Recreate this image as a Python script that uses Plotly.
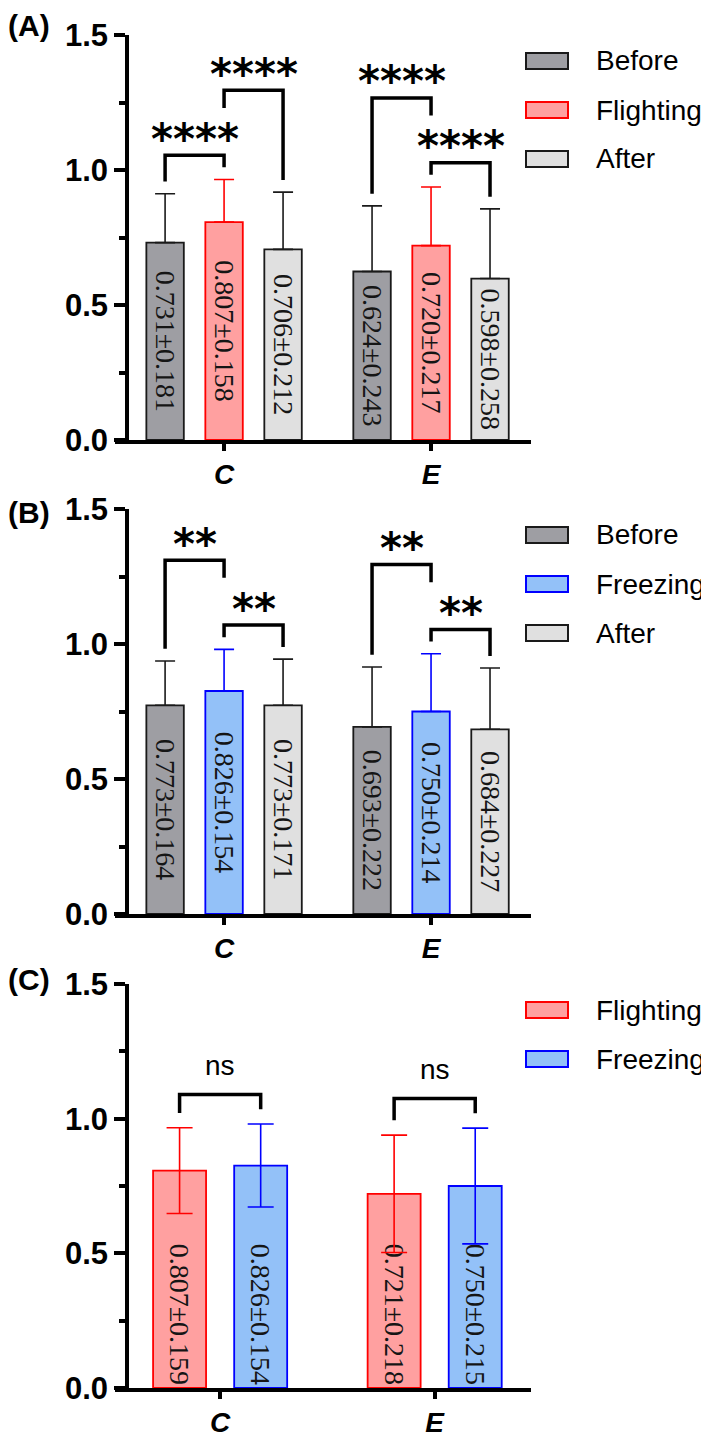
import plotly.graph_objects as go

# ---- data ----
groups = ['C', 'E']
y_ticks = [0.0, 0.5, 1.0, 1.5]
panel_labels = ['(A)', '(B)', '(C)']

a_names = ['Before', 'Flighting', 'After']
a_means = [[0.731, 0.624], [0.807, 0.720], [0.706, 0.598]]
a_sds = [[0.181, 0.243], [0.158, 0.217], [0.212, 0.258]]
# (group, bar i, bar j, label, stacking level)
a_tests = [(0, 0, 1, '****', 0), (0, 1, 2, '****', 1),
           (1, 0, 1, '****', 1), (1, 1, 2, '****', 0)]

b_names = ['Before', 'Freezing', 'After']
b_means = [[0.773, 0.693], [0.826, 0.750], [0.773, 0.684]]
b_sds = [[0.164, 0.222], [0.154, 0.214], [0.171, 0.227]]
b_tests = [(0, 0, 1, '**', 1), (0, 1, 2, '**', 0),
           (1, 0, 1, '**', 1), (1, 1, 2, '**', 0)]

c_names = ['Flighting', 'Freezing']
c_means = [[0.807, 0.721], [0.826, 0.750]]
c_sds = [[0.159, 0.218], [0.154, 0.215]]
c_tests = [(0, 0, 1, 'ns', 0), (1, 0, 1, 'ns', 0)]

# ---- styling ----
# the page body keeps its default 8px margin: the figure starts at (8, 8)
# and runs to the window's right and bottom edges
OFF = 8
FW, FH = 709 - OFF, 1439 - OFF
fill = {'Before': '#9e9ea3', 'Flighting': '#ffa0a0',
        'After': '#e0e0e0', 'Freezing': '#93c1f8'}
edge = {'Before': '#1a1a1a', 'Flighting': '#ff0000',
        'After': '#1a1a1a', 'Freezing': '#0000ff'}
SANS = 'Liberation Sans, Arial, sans-serif'
SERIF = 'Liberation Serif, Times New Roman, serif'

panels = [
    dict(names=a_names, means=a_means, sds=a_sds, tests=a_tests,
         top=35, bottom=440, slot=0.285, bw=0.181, xr=[-0.527, 1.483],
         both=False, cap=10, anchor='middle', label_y=26, pad=0.045),
    dict(names=b_names, means=b_means, sds=b_sds, tests=b_tests,
         top=509, bottom=914, slot=0.285, bw=0.181, xr=[-0.527, 1.483],
         both=False, cap=10, anchor='middle', label_y=513, pad=0.045),
    dict(names=c_names, means=c_means, sds=c_sds, tests=c_tests,
         top=984, bottom=1388, slot=0.378, bw=0.247, xr=[-0.49, 1.449],
         both=True, cap=13, anchor='start', label_y=979, pad=0.055),
]


def px_x(p):
    return (p - OFF) / FW


def px_y(p):
    return 1 - (p - OFF) / FH


group_pos = list(range(len(groups)))
fig = go.Figure()
shapes = []
annotations = []
layout_axes = {}

for k, p in enumerate(panels):
    sfx = '' if k == 0 else str(k + 1)
    xa, ya = 'x' + sfx, 'y' + sfx
    n = len(p['names'])
    centers = [(i - (n - 1) / 2) * p['slot'] for i in range(n)]

    for i, name in enumerate(p['names']):
        means, sds = p['means'][i], p['sds'][i]
        err = dict(type='data', array=sds, color=edge[name],
                   thickness=1.6, width=p['cap'])
        if not p['both']:
            err.update(symmetric=False, arrayminus=[0] * len(sds))
        bar_font = dict(family=SERIF, size=28, color='#151515')
        fig.add_trace(go.Bar(
            x=group_pos, y=means, xaxis=xa, yaxis=ya,
            width=p['bw'], offset=centers[i] - p['bw'] / 2,
            marker=dict(color=fill[name], line=dict(color=edge[name], width=1.8)),
            error_y=err,
            text=['{:.3f}±{:.3f}'.format(m, s) for m, s in zip(means, sds)],
            textposition='inside', insidetextanchor=p['anchor'],
            textangle=90, constraintext='none',
            textfont=bar_font, insidetextfont=bar_font,
            showlegend=False, hoverinfo='skip'))

    # significance brackets
    base_h = {}
    base_pair = {}
    for g, i, j, lab, lvl in sorted(p['tests'], key=lambda t: t[4]):
        tops = [p['means'][b][g] + p['sds'][b][g] for b in (i, j)]
        if lvl == 0:
            legs = [t + p['pad'] for t in tops]
            h = max(legs) + p['pad']
            base_h[g] = h
            base_pair[g] = (i, j)
        else:
            h = base_h[g] + 0.24
            legs = [h - 0.065 if b in base_pair[g] else t + p['pad']
                    for b, t in zip((i, j), tops)]
        x0 = group_pos[g] + centers[i]
        x1 = group_pos[g] + centers[j]
        shapes.append(dict(type='path', xref=xa, yref=ya,
                           path='M {} {} L {} {} L {} {} L {} {}'.format(
                               x0, legs[0], x0, h, x1, h, x1, legs[1]),
                           line=dict(color='black', width=3.5)))
        if lab == 'ns':
            font = dict(family=SANS, size=28, color='black')
            shift = 29
        else:
            font = dict(family='DejaVu Sans', size=42, color='black', weight='bold')
            shift = 16
        annotations.append(dict(x=(x0 + x1) / 2, y=h, xref=xa, yref=ya,
                                text=lab, showarrow=False, font=font,
                                xanchor='center', yanchor='middle', yshift=shift))

    # legend drawn by hand
    for r, name in enumerate(p['names']):
        cy = p['top'] + 26 + 49 * r
        shapes.append(dict(type='rect', xref='paper', yref='paper',
                           x0=px_x(526), x1=px_x(568),
                           y0=px_y(cy - 8), y1=px_y(cy + 8),
                           fillcolor=fill[name],
                           line=dict(color=edge[name], width=2)))
        annotations.append(dict(x=px_x(594), y=px_y(cy), xref='paper', yref='paper',
                                text=name, showarrow=False, xanchor='left',
                                yanchor='middle',
                                font=dict(family=SANS, size=28, color='black')))

    annotations.append(dict(x=px_x(6), y=px_y(p['label_y']), xref='paper',
                            yref='paper', text=panel_labels[k], showarrow=False,
                            xanchor='left', yanchor='middle',
                            font=dict(family=SANS, size=30, color='black',
                                      weight='bold')))

    layout_axes['xaxis' + sfx] = dict(
        domain=[px_x(115), px_x(531)], range=p['xr'], anchor=ya,
        automargin=False,
        showline=True, linewidth=3.5, linecolor='black',
        ticks='outside', ticklen=7, tickwidth=3.5, tickcolor='black',
        tickvals=group_pos, ticktext=groups,
        tickfont=dict(family=SANS, size=28, color='black',
                      weight='bold', style='italic'),
        showgrid=False, zeroline=False, fixedrange=True)
    layout_axes['yaxis' + sfx] = dict(
        domain=[px_y(p['bottom']), px_y(p['top'])], range=[0, 1.5],
        anchor='free', position=px_x(127), automargin=False,
        showline=True, linewidth=3.5, linecolor='black',
        ticks='outside', ticklen=11, tickwidth=3.5, tickcolor='black',
        tickmode='array', tickvals=y_ticks, tickformat='.1f',
        minor=dict(tickmode='linear', tick0=0, dtick=0.25, ticks='outside',
                   ticklen=6, tickwidth=3.5, tickcolor='black'),
        tickfont=dict(family=SANS, size=31, color='black', weight='bold'),
        showgrid=False, zeroline=False, fixedrange=True)

fig.update_layout(
    template='none',
    width=FW, height=FH,
    margin=dict(l=0, r=0, t=0, b=0, autoexpand=False),
    paper_bgcolor='white', plot_bgcolor='white',
    barmode='overlay', showlegend=False,
    shapes=shapes, annotations=annotations,
    **layout_axes)

fig.write_html('out.html')
